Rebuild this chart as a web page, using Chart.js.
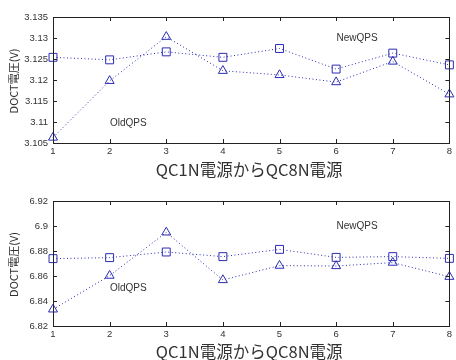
<!DOCTYPE html>
<html>
<head>
<meta charset="utf-8">
<script src="https://cdn.jsdelivr.net/npm/chart.js@4/dist/chart.umd.min.js"></script>
<style>
  html, body { margin: 0; padding: 0; background: #fff; }
  .wrap { position: absolute; left: 0; width: 456px; height: 180px; }
  #w1 { top: 0; }
  #w2 { top: 180px; }
</style>
</head>
<body>
<div class="wrap" id="w1"><canvas id="c1" width="456" height="180"></canvas></div>
<div class="wrap" id="w2"><canvas id="c2" width="456" height="180"></canvas></div>
<script>
// Power supply index along the x axis (QC1N .. QC8N)
const supplies = [1, 2, 3, 4, 5, 6, 7, 8];

// DOCT voltage, upper panel (about 3.12 V)
const lowNewQPS = [3.1254, 3.1248, 3.1267, 3.1254, 3.1275, 3.1226, 3.1264, 3.1236];
const lowOldQPS = [3.1063, 3.1198, 3.1303, 3.1222, 3.1212, 3.1195, 3.1244, 3.1166];
const lowTicks = ['3.105', '3.11', '3.115', '3.12', '3.125', '3.13', '3.135'];

// DOCT voltage, lower panel (about 6.87 V)
const highNewQPS = [6.8739, 6.8747, 6.8792, 6.8755, 6.8813, 6.8749, 6.8755, 6.8741];
const highOldQPS = [6.8333, 6.8603, 6.8949, 6.8568, 6.8683, 6.8680, 6.8707, 6.8594];
const highTicks = ['6.82', '6.84', '6.86', '6.88', '6.9', '6.92'];

const xTitle = 'QC1N電源からQC8N電源';
const yTitle = 'DOCT電圧(V)';
const newLabel = 'NewQPS';
const oldLabel = 'OldQPS';

const BLUE = '#2c2cb4';
const AXIS = '#222';
const TEXT = '#333';

function pts(values) {
  return supplies.map((x, i) => ({ x: x, y: values[i] }));
}

// Frame with inward tick marks on all four sides, axis titles and series notes
const framePlugin = {
  id: 'frame',
  afterDraw(chart, args, opts) {
    const { ctx, chartArea: a, scales } = chart;
    const xs = scales.x, ys = scales.y;
    ctx.save();
    ctx.strokeStyle = AXIS;
    ctx.lineWidth = 1;
    ctx.strokeRect(Math.round(a.left) + 0.5, Math.round(a.top) + 0.5,
                   Math.round(a.right - a.left), Math.round(a.bottom - a.top));
    const L = 4;
    ctx.beginPath();
    xs.ticks.forEach(t => {
      const px = Math.round(xs.getPixelForValue(t.value)) + 0.5;
      ctx.moveTo(px, a.bottom); ctx.lineTo(px, a.bottom - L);
      ctx.moveTo(px, a.top); ctx.lineTo(px, a.top + L);
    });
    ys.ticks.forEach(t => {
      const py = Math.round(ys.getPixelForValue(t.value)) + 0.5;
      ctx.moveTo(a.left, py); ctx.lineTo(a.left + L, py);
      ctx.moveTo(a.right, py); ctx.lineTo(a.right - L, py);
    });
    ctx.stroke();

    // axis titles
    ctx.fillStyle = TEXT;
    ctx.textAlign = 'center';
    ctx.textBaseline = 'middle';
    ctx.font = '16.5px "Noto Sans CJK JP"';
    ctx.fillText(xTitle, (a.left + a.right) / 2 - 2, a.bottom + opts.xTitleGap);
    ctx.save();
    ctx.translate(14, (a.top + a.bottom) / 2 + 1);
    ctx.rotate(-Math.PI / 2);
    ctx.font = '11px "Noto Sans CJK JP"';
    ctx.fillText(yTitle, 0, 0);
    ctx.restore();

    // series notes, placed in data coordinates
    ctx.font = '10px "Liberation Sans"';
    opts.notes.forEach(n => {
      ctx.fillText(n.text, xs.getPixelForValue(n.x), ys.getPixelForValue(n.y));
    });
    ctx.restore();
  }
};

function makeChart(id, newVals, oldVals, tickLabels, yMin, yMax, step, layout) {
  return new Chart(document.getElementById(id), {
    type: 'line',
    data: {
      datasets: [
        {
          label: newLabel,
          data: pts(newVals),
          borderColor: BLUE,
          borderWidth: 1,
          borderDash: [1, 2.5],
          pointStyle: 'rect',
          pointRadius: 5.6,
          pointBorderWidth: 1,
          pointBorderColor: BLUE,
          pointBackgroundColor: 'rgba(0,0,0,0)',
          tension: 0,
          clip: false
        },
        {
          label: oldLabel,
          data: pts(oldVals),
          borderColor: BLUE,
          borderWidth: 1,
          borderDash: [1, 2.5],
          pointStyle: 'triangle',
          pointRadius: 5.2,
          pointBorderWidth: 1,
          pointBorderColor: BLUE,
          pointBackgroundColor: 'rgba(0,0,0,0)',
          tension: 0,
          clip: false
        }
      ]
    },
    options: {
      responsive: false,
      animation: false,
      events: [],
      layout: { padding: { top: layout.top, right: 4, left: 0, bottom: 0 } },
      plugins: {
        legend: { display: false },
        tooltip: { enabled: false },
        frame: { xTitleGap: layout.titleGap, notes: layout.notes }
      },
      scales: {
        x: {
          type: 'linear',
          min: 1, max: 8,
          afterFit(s) { s.height = layout.xHeight; },
          grid: { display: false, drawTicks: false },
          border: { display: false },
          ticks: {
            stepSize: 1,
            padding: 3,
            color: TEXT,
            font: { family: 'Liberation Sans', size: 9.5 },
            callback: v => String(supplies[v - 1])
          }
        },
        y: {
          type: 'linear',
          min: yMin, max: yMax,
          afterFit(s) { s.width = 53; },
          grid: { display: false, drawTicks: false },
          border: { display: false },
          ticks: {
            stepSize: step,
            padding: 5,
            color: TEXT,
            font: { family: 'Liberation Sans', size: 9.5 },
            callback: (v, i) => tickLabels[i]
          }
        }
      }
    },
    plugins: [framePlugin]
  });
}

makeChart('c1', lowNewQPS, lowOldQPS, lowTicks, 3.105, 3.135, 0.005, {
  top: 17, xHeight: 37, titleGap: 27,
  notes: [{ text: newLabel, x: 6.37, y: 3.1300 }, { text: oldLabel, x: 2.33, y: 3.1098 }]
});
makeChart('c2', highNewQPS, highOldQPS, highTicks, 6.82, 6.92, 0.02, {
  top: 21, xHeight: 34, titleGap: 26,
  notes: [{ text: newLabel, x: 6.37, y: 6.900 }, { text: oldLabel, x: 2.33, y: 6.8504 }]
});
</script>
</body>
</html>
